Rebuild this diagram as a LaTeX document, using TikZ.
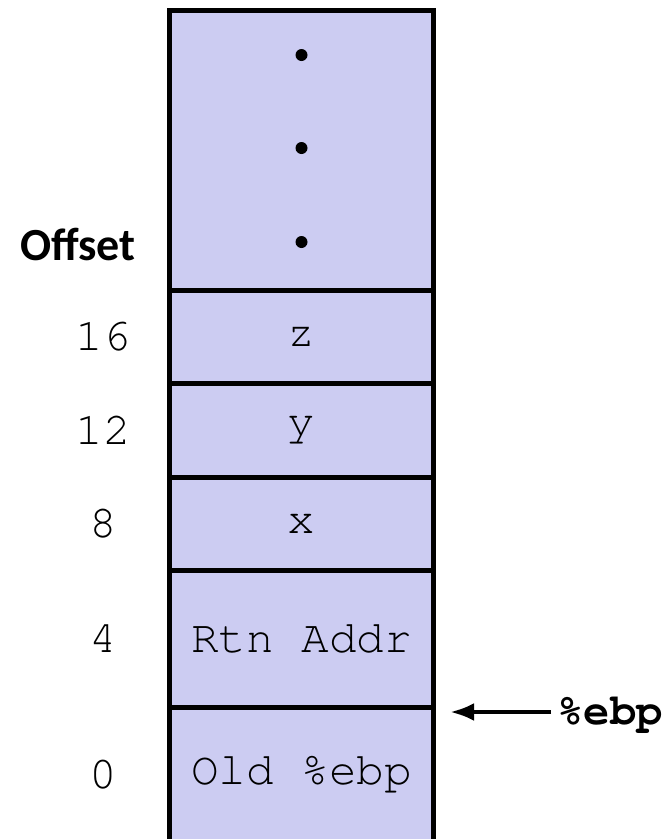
\documentclass[tikz,border=0pt]{standalone}
\usepackage{fontspec}
\newfontfamily\offsetfont{Carlito}
\setmonofont{TeX Gyre Cursor}
\usetikzlibrary{arrows.meta}
\definecolor{stackfill}{RGB}{204,204,242}

\begin{document}
\begin{tikzpicture}[x=1pt, y=-1pt,
    cell/.style={draw, fill=stackfill, line width=5pt, inner sep=0pt, outer sep=0pt,
        minimum width=264pt, anchor=north, font=\fontsize{46}{50}\selectfont\ttfamily},
    offs/.style={font=\fontsize{46}{50}\selectfont\ttfamily},
    ptr/.style={-{Latex[length=24pt,width=18pt]}, line width=4.5pt}]
\clip (0,0) rectangle (669,839);
\node[cell, minimum height=280pt] (dots) at (301.5,10) {};
\node[cell, minimum height=93.5pt] (z) at (dots.south) {z};
\node[cell, minimum height=93.5pt] (y) at (z.south) {y};
\node[cell, minimum height=93pt] (x) at (y.south) {x};
\node[cell, minimum height=137pt] (rtn) at (x.south) {Rtn Addr};
\node[cell, minimum height=136pt] (old) at (rtn.south) {Old \%ebp};
\foreach \y in {55,148,242}
    \fill (301.5,\y) circle (6pt);
\coordinate (offcol) at (103,0);
\node[font=\offsetfont\bfseries\fontsize{46}{50}\selectfont] (offset) at (78,245) {Offset};
\node[offs] (o16) at (offcol |- z) {16};
\node[offs] (o12) at (offcol |- y) {12};
\node[offs] (o8) at (offcol |- x) {8};
\node[offs] (o4) at (offcol |- rtn) {4};
\node[offs] (o0) at (offcol |- old) {0};
\node[font=\fontsize{44}{48}\selectfont\ttfamily\bfseries, inner sep=6pt] (ebp) at (610,715) {\%ebp};
\coordinate (ebptip) at (450,712);
\draw[ptr] (ebp.west |- ebptip) -- (ebptip);
\end{tikzpicture}
\end{document}
